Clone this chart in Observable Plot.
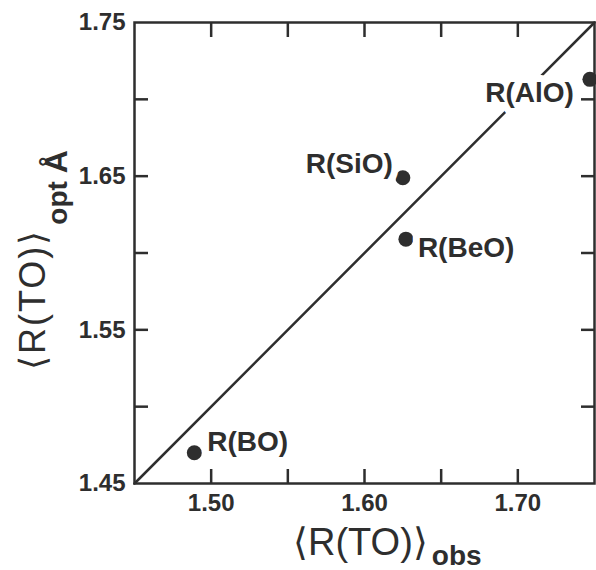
<!DOCTYPE html>
<html>
<head>
<meta charset="utf-8">
<script src="https://cdn.jsdelivr.net/npm/d3@7"></script>
<script src="https://cdn.jsdelivr.net/npm/@observablehq/plot@0.6"></script>
<style>
  html, body { margin: 0; padding: 0; background: #fff; }
  #chart svg { display: block; }
</style>
</head>
<body>
<div id="chart"></div>
<script>
// ---- data ----
const names = ["R(BO)", "R(SiO)", "R(BeO)", "R(AlO)"];
const obsValues = [1.489, 1.625, 1.627, 1.747];
const optValues = [1.470, 1.649, 1.609, 1.713];
const identityLine = [1.45, 1.75];
const xTickLabels = [1.50, 1.60, 1.70];
const yTickLabels = [1.45, 1.55, 1.65, 1.75];
const tickMarks = [1.50, 1.55, 1.60, 1.65, 1.70];

// ---- label layout (offsets in px) ----
const labelLayout = [
  {dx: 13, dy: -11, anchor: "start"},
  {dx: -10, dy: -14, anchor: "end"},
  {dx: 12, dy: 9, anchor: "start"},
  {dx: -16, dy: 14, anchor: "end"}
];

const ink = "#2e2e2e";
const font = "'Liberation Sans', Arial, sans-serif";
const idx = names.map((_, i) => i);

const chart = Plot.plot({
  width: 596,
  height: 570,
  marginLeft: 134,
  marginRight: 2,
  marginTop: 22,
  marginBottom: 87,
  x: {domain: [1.45, 1.75]},
  y: {domain: [1.45, 1.75]},
  style: {fontFamily: font, color: ink, background: "#fff", overflow: "visible"},
  marks: [
    Plot.line(identityLine, {x: d => d, y: d => d, stroke: ink, strokeWidth: 2.5}),
    // inward tick marks on all four sides
    Plot.axisX({anchor: "bottom", ticks: tickMarks, tickSize: -14, tickFormat: () => "", label: null, strokeWidth: 2.5, stroke: ink}),
    Plot.axisX({anchor: "top", ticks: tickMarks, tickSize: -14, tickFormat: () => "", label: null, strokeWidth: 2.5, stroke: ink}),
    Plot.axisY({anchor: "left", ticks: tickMarks, tickSize: -14, tickFormat: () => "", label: null, strokeWidth: 2.5, stroke: ink}),
    Plot.axisY({anchor: "right", ticks: tickMarks, tickSize: -14, tickFormat: () => "", label: null, strokeWidth: 2.5, stroke: ink}),
    // tick labels
    Plot.axisX({anchor: "bottom", ticks: xTickLabels, tickSize: 0, tickPadding: 10, tickFormat: ".2f", label: null,
      fontSize: 24, fontWeight: "bold", fill: ink, letterSpacing: 2.5}),
    Plot.axisY({anchor: "left", ticks: yTickLabels, tickSize: 0, tickPadding: 9, tickFormat: ".2f", label: null,
      fontSize: 24, fontWeight: "bold", fill: ink, letterSpacing: 2.5}),
    Plot.frame({stroke: ink, strokeWidth: 2.5}),
    Plot.dot(idx, {x: i => obsValues[i], y: i => optValues[i], r: 7.5, fill: ink, stroke: "none"}),
    ...idx.map(i => Plot.text([i], {
      x: d => obsValues[d], y: d => optValues[d], text: d => names[d],
      dx: labelLayout[i].dx, dy: labelLayout[i].dy, textAnchor: labelLayout[i].anchor,
      fontSize: 28, fontWeight: "bold", fill: ink, letterSpacing: 1,
      stroke: "#fff", strokeWidth: 14, paintOrder: "stroke"
    }))
  ]
});

document.getElementById("chart").appendChild(chart);

// ---- axis titles with subscripts ----
const svg = d3.select(chart);
// x title
const xt = svg.append("text")
  .attr("x", 293).attr("y", 555).attr("text-anchor", "start")
  .attr("font-family", font).attr("fill", ink);
xt.append("tspan").attr("font-size", 38).text("⟨R(TO)⟩");
xt.append("tspan").attr("font-size", 28).attr("font-weight", "bold").attr("dy", 10).attr("dx", 4).text("obs");

// y title (rotated)
const yg = svg.append("g").attr("transform", "translate(45,370) rotate(-90)");
const yt = yg.append("text").attr("x", 0).attr("y", 0).attr("text-anchor", "start")
  .attr("font-family", font).attr("fill", ink);
yt.append("tspan").attr("font-size", 36).attr("letter-spacing", 2).text("⟨R(TO)⟩");
yt.append("tspan").attr("font-size", 28).attr("font-weight", "bold").attr("dy", 22).attr("dx", 4).text("opt");
yt.append("tspan").attr("font-size", 32).attr("font-weight", "bold").attr("dx", 8).text("Å");
</script>
</body>
</html>
